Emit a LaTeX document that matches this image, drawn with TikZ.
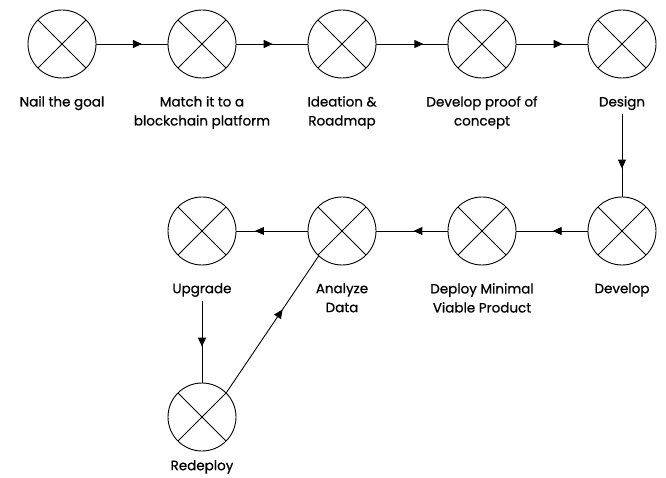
\documentclass[tikz,border=0pt]{standalone}
\usepackage{fontspec}
\setmainfont{Poppins}[FakeBold=0.6]
\usetikzlibrary{arrows.meta,decorations.markings}
\tikzset{
  stepnode/.style={circle, draw, line width=0.9pt, minimum size=68pt, inner sep=0pt,
    path picture={\draw[line width=0.9pt] (path picture bounding box.south west) -- (path picture bounding box.north east)
      (path picture bounding box.north west) -- (path picture bounding box.south east);}},
  steplabel/.style={anchor=north, inner sep=0pt, align=center, font=\fontsize{13.5}{19}\selectfont},
  flow/.style={line width=0.9pt, postaction={decorate},
    decoration={markings, mark=at position #1 with {\arrow{Triangle[length=9pt,width=8pt]}}}}
}
\begin{document}
\begin{tikzpicture}[x=1pt,y=-1pt]
\useasboundingbox (0,0) rectangle (666,478);
\node[stepnode] (n1) at (62,44) {};
\node[stepnode] (n2) at (202,44) {};
\node[stepnode] (n3) at (342,44) {};
\node[stepnode] (n4) at (482,44) {};
\node[stepnode] (n5) at (622,44) {};
\node[stepnode] (n6) at (622,231) {};
\node[stepnode] (n7) at (482,231) {};
\node[stepnode] (n8) at (342,231) {};
\node[stepnode] (n9) at (202,231) {};
\node[stepnode] (n10) at (202,417) {};

\node[steplabel] (l1) at (62,96) {Nail the goal};
\node[steplabel] (l2) at (202,96) {Match it to a\\blockchain platform};
\node[steplabel] (l3) at (342,96) {Ideation \&\\Roadmap};
\node[steplabel] (l4) at (482,96) {Develop proof of\\concept};
\node[steplabel] (l5) at (622,96) {Design};
\node[steplabel] (l6) at (622,283) {Develop};
\node[steplabel] (l7) at (482,283) {Deploy Minimal\\Viable Product};
\node[steplabel] (l8) at (342,283) {Analyze\\Data};
\node[steplabel] (l9) at (202,283) {Upgrade};
\node[steplabel] (l10) at (202,460) {Redeploy};

\draw[flow=0.64] (n1) -- (n2);
\draw[flow=0.51] (n2) -- (n3);
\draw[flow=0.66] (n3) -- (n4);
\draw[flow=0.65] (n4) -- (n5);
\draw[flow=0.66] ([yshift=-4pt]l5.south) -- (n6);
\draw[flow=0.49] (n6) -- (n7);
\draw[flow=0.48] (n7) -- (n8);
\draw[flow=0.74] (n8) -- (n9);
\draw[flow=0.56] ([yshift=-4pt]l9.south) -- (n10);
\draw[flow=0.61] (n10.45) -- (n8.227);
\end{tikzpicture}
\end{document}
